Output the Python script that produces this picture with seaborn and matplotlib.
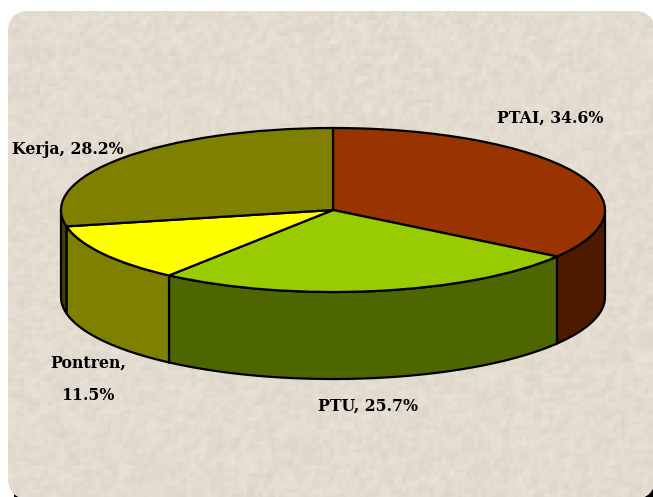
import numpy as np
import pandas as pd
import matplotlib.pyplot as plt
import seaborn as sns
from matplotlib.patches import FancyBboxPatch, Rectangle

# Dati del grafico
categories = ['PTAI', 'PTU', 'Pontren', 'Kerja']
values = [34.6, 25.7, 11.5, 28.2]
top_colors = ['#993300', '#99CC00', '#FFFF00', '#808000']
side_colors = ['#4D1A00', '#4D6600', '#808000', '#404000']

df = pd.DataFrame({'categoria': categories, 'valore': values})

sns.set_theme(style='white')
plt.rcParams['font.family'] = ['DejaVu Serif']

W, H = 653, 497
CX, CY, RX, RY, DEPTH = 333, 210, 272, 82, 87

fig = plt.figure(figsize=(W / 100, H / 100), dpi=100, facecolor='white')

# Sfondo: pannello arrotondato con texture a blocchi
bg = fig.add_axes([0, 0, 1, 1])
bg.axis('off')
bg.add_patch(Rectangle((641, 486), 12, 11, color='black', lw=0, zorder=0))
bg.add_patch(Rectangle((14, 493), 10, 4, color='black', lw=0, zorder=0))
panel = FancyBboxPatch((30, 33), 603, 444,
                       boxstyle='round,pad=22,rounding_size=22',
                       fc='#E2DBCF', ec='none', zorder=1)
bg.add_patch(panel)
yy, xx = np.mgrid[0:H // 4 + 3, 0:W // 4 + 3]
noise = (np.sin(xx * 12.9898 + yy * 78.233) * 43758.5453) % 1
soft = (noise[1:-1, 1:-1] * 2 + noise[:-2, 1:-1] + noise[1:-1, :-2]) / 4
tex = np.dstack([219 + 15 * soft, 212 + 15 * soft, 199 + 16 * soft]).astype(np.uint8)
img = bg.imshow(tex, extent=(0, W, H, 0), interpolation='nearest', zorder=2, aspect='auto')
img.set_clip_path(panel)
bg.set_xlim(0, W)
bg.set_ylim(H, 0)

# Torta: unita' di raggio, assi non isometrici per lo schiacciamento
ax = fig.add_axes([0, 0, 1, 1])
ax.patch.set_alpha(0)
ax.pie(df['valore'], colors=top_colors, startangle=90, counterclock=False, radius=1,
       wedgeprops={'edgecolor': 'black', 'linewidth': 1.6, 'zorder': 5})
ax.set_aspect('auto')
ax.set_xlim(-CX / RX, (W - CX) / RX)
ax.set_ylim(-(H - CY) / RY, CY / RY)
ax.axis('off')

# Pareti laterali (solo la meta' anteriore e' visibile)
depth = DEPTH / RY
edges = np.cumsum([0] + values) / 100 * 2 * np.pi
for a, b, col in zip(edges[:-1], edges[1:], side_colors):
    a2, b2 = max(a, np.pi / 2), min(b, 3 * np.pi / 2)
    if a2 >= b2:
        continue
    t = np.linspace(a2, b2, 80)
    xs, ys = np.sin(t), np.cos(t)
    ax.fill(np.r_[xs, xs[::-1]], np.r_[ys, ys[::-1] - depth],
            fc=col, ec='black', lw=1.6, zorder=3)

# Etichette
labels = [f'{c}, {v}%' for c, v in zip(categories, values)]
labels[2] = labels[2].replace(', ', ',\n')
label_pos = [(550, 118), (368, 406), (88, 379), (68, 150)]
for txt, (px, py) in zip(labels, label_pos):
    ax.text((px - CX) / RX, (CY - py) / RY, txt, ha='center', va='center',
            fontsize=11.3, fontweight='bold', color='black', linespacing=2.2, zorder=6)

fig.savefig('out.png', dpi=100)
